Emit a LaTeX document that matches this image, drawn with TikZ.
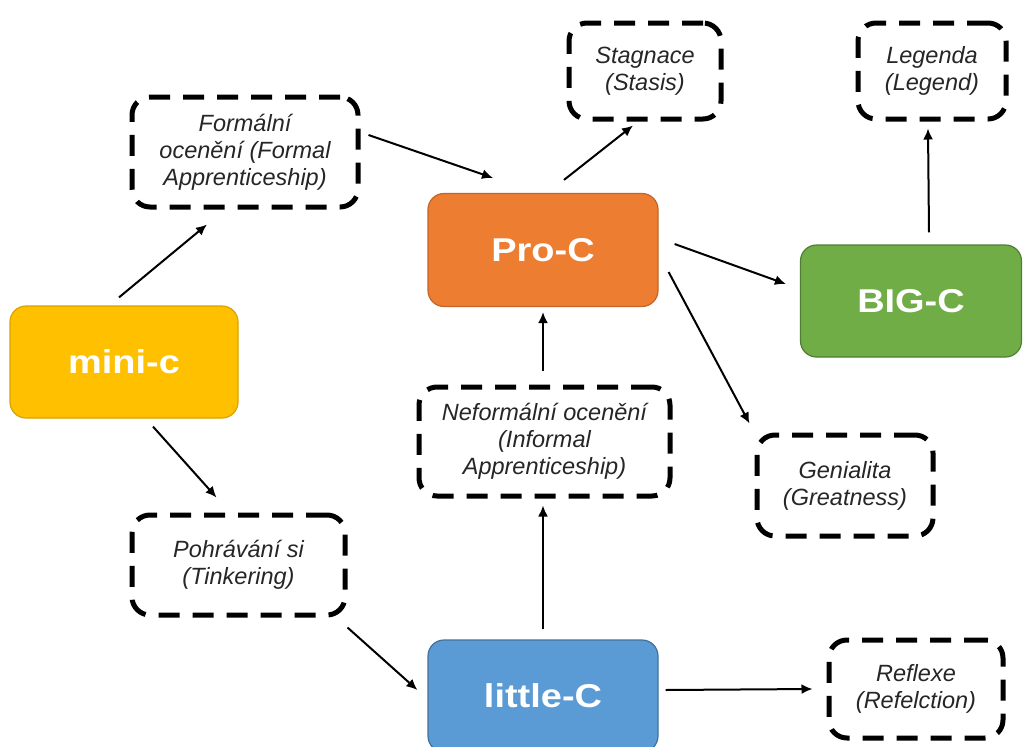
\documentclass[tikz,border=0pt]{standalone}
\usepackage{fontspec}
\setmainfont{Liberation Sans}
\newfontfamily\bigfont[FakeStretch=1.15]{Liberation Sans}
\usetikzlibrary{arrows.meta}
\definecolor{miniC}{HTML}{FFC000}
\definecolor{miniB}{HTML}{D9A300}
\definecolor{proC}{HTML}{ED7D31}
\definecolor{proB}{HTML}{C2652A}
\definecolor{bigC}{HTML}{70AD47}
\definecolor{bigB}{HTML}{507E32}
\definecolor{litC}{HTML}{5B9BD5}
\definecolor{litB}{HTML}{41719C}
\definecolor{txt}{HTML}{262626}
\tikzset{
  solidbox/.style={draw=#1B, fill=#1C, line width=1.2pt, rounded corners=16pt,
    text=white, font=\bigfont\bfseries\fontsize{33}{38}\selectfont, inner sep=0pt},
  dashbox/.style={draw=black, fill=white, line width=5pt, rounded corners=18pt,
    dash pattern=on 21pt off 13pt, align=center, text=txt,
    font=\itshape\fontsize{23.5}{27}\selectfont, inner sep=0pt},
  conn/.style={-{Latex[length=11pt,width=10pt]}, line width=2pt, black}
}
\begin{document}
\begin{tikzpicture}[x=1pt,y=-1pt]
\useasboundingbox (0,0) rectangle (1023,747);
% solid nodes
\node[solidbox=mini, minimum width=228pt, minimum height=112pt] (mini) at (124,362) {mini-c};
\node[solidbox=pro, minimum width=230pt, minimum height=113pt] (pro) at (543,250) {Pro-C};
\node[solidbox=big, minimum width=221pt, minimum height=112pt] (big) at (911,301) {BIG-C};
\node[solidbox=lit, minimum width=230pt, minimum height=112pt] (little) at (543,696) {little-C};
% dashed nodes
\node[dashbox, minimum width=226pt, minimum height=110pt] (formal) at (245,152) {Formální\\ocenění (Formal\\Apprenticeship)};
\node[dashbox, minimum width=251pt, minimum height=109pt] (informal) at (544.5,441.5) {Neformální ocenění\\(Informal\\Apprenticeship)};
\node[dashbox, minimum width=213pt, minimum height=100pt] (tinker) at (238.5,565) {Pohrávání si\\(Tinkering)};
\node[dashbox, minimum width=174pt, minimum height=98pt] (refl) at (916,689) {Reflexe\\(Refelction)};
\node[dashbox, minimum width=176pt, minimum height=101pt] (gen) at (845,485.5) {Genialita\\(Greatness)};
\node[dashbox, minimum width=152pt, minimum height=96pt] (stag) at (645,71) {Stagnace\\(Stasis)};
\node[dashbox, minimum width=148pt, minimum height=96pt] (leg) at (932,71) {Legenda\\(Legend)};
% connectors
\draw[conn] ([xshift=-5pt,yshift=8pt]mini.north) -- ([xshift=-38pt,yshift=-15pt]formal.south);
\draw[conn] ([xshift=29pt,yshift=-8pt]mini.south) -- ([xshift=-22pt,yshift=15pt]tinker.north);
\draw[conn] ([xshift=8pt,yshift=17pt]formal.east) -- ([xshift=-50pt,yshift=15pt]pro.north);
\draw[conn] ([yshift=-10pt]tinker.south east) -- ([xshift=-10pt,yshift=6pt]little.west);
\draw[conn] ([xshift=21pt,yshift=13pt]pro.north) -- ([xshift=-12pt,yshift=-4pt]stag.south);
\draw[conn] ([xshift=16pt,yshift=6pt]pro.east) -- ([xshift=-14pt,yshift=17pt]big.west);
\draw[conn] ([xshift=10pt,yshift=-22pt]pro.east) -- ([xshift=-5pt,yshift=9pt]gen.north west);
\draw[conn] ([xshift=18pt,yshift=12pt]big.north) -- ([xshift=-4pt,yshift=-7pt]leg.south);
\draw[conn] ([xshift=-1.5pt,yshift=14pt]informal.north) -- ([yshift=-5pt]pro.south);
\draw[conn] ([yshift=10pt]little.north) -- ([xshift=-1.5pt,yshift=-7pt]informal.south);
\draw[conn] ([xshift=7pt,yshift=6pt]little.east) -- ([xshift=-14pt]refl.west);
\end{tikzpicture}
\end{document}
